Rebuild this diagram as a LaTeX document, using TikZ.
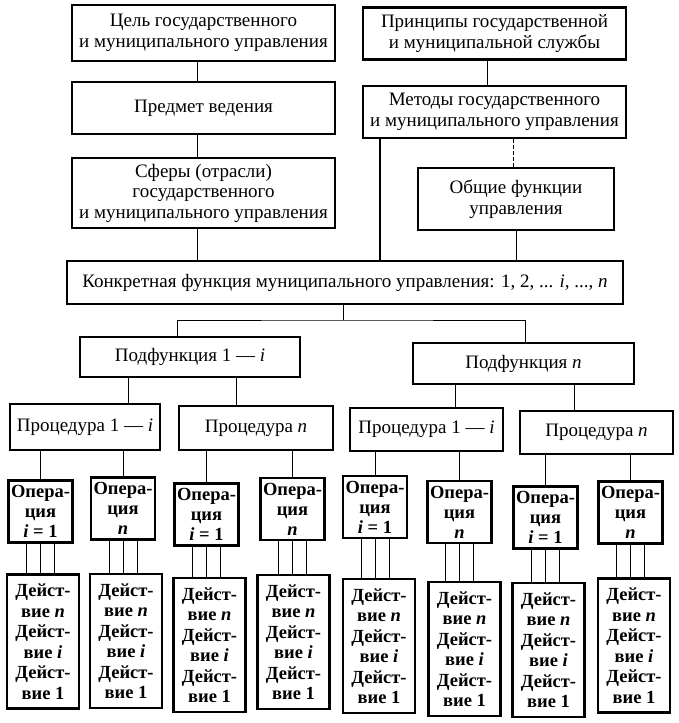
\documentclass[tikz,border=0pt]{standalone}
\usepackage{fontspec}
\setmainfont{Liberation Serif}
\usepackage{tikz}
\usetikzlibrary{positioning,calc}

\begin{document}
\begin{tikzpicture}[
    x=1pt, y=1pt,
    every node/.style={font=\fontsize{19}{20.5}\selectfont},
    block/.style={rectangle, draw=black, line width=2.4pt, align=center, inner sep=1pt},
    opbox/.style={block, font=\fontsize{18.5}{20}\selectfont\bfseries, minimum width=64pt, minimum height=62pt},
    actbox/.style={block, font=\fontsize{18.5}{20.5}\selectfont\bfseries, minimum width=72pt, minimum height=134pt},
    line/.style={line width=0.9pt},
    mainline/.style={line width=2pt},
    dashline/.style={line width=0.9pt, dash pattern=on 4pt off 2pt}
]
    \useasboundingbox (0,0) rectangle (679,-723);

    % Top boxes
    \node[block, minimum width=263pt, minimum height=56pt] (goal) at (203.5,-33) {Цель государственного\\и муниципального управления};
    \node[block, minimum width=263pt, minimum height=52pt] (principles) at (494.5,-33.5) {Принципы государственной\\и муниципальной службы};
    \node[block, minimum width=263pt, minimum height=52pt] (subject) at (203.5,-108) {Предмет ведения};
    \node[block, minimum width=263pt, minimum height=52pt] (methods) at (494.5,-112) {Методы государственного\\и муниципального управления};
    \node[block, minimum width=263pt, minimum height=70pt] (spheres) at (203.5,-193) {Сферы (отрасли)\\государственного\\и муниципального управления};
    \node[block, minimum width=196pt, minimum height=62pt] (general) at (516,-199) {Общие функции\\управления};
    \node[block, minimum width=556pt, minimum height=43pt] (concrete) at (345,-282.5) {Конкретная функция муниципального управления: 1, 2, ... \textit{i}, ..., \textit{n}};

    % Subfunctions and procedures
    \node[block, minimum width=220pt, minimum height=40pt] (subf1) at (190,-357) {Подфункция 1 --- \textit{i}};
    \node[block, minimum width=221pt, minimum height=41pt] (subfn) at (523.5,-363.5) {Подфункция \textit{n}};
    \node[block, minimum width=150pt, minimum height=46pt] (proc1) at (85,-427) {Процедура 1 --- \textit{i}};
    \node[block, minimum width=154pt, minimum height=44pt] (proc2) at (256,-428) {Процедура \textit{n}};
    \node[block, minimum width=153pt, minimum height=43pt] (proc3) at (426.5,-429.5) {Процедура 1 --- \textit{i}};
    \node[block, minimum width=153pt, minimum height=43pt] (proc4) at (596.5,-432.5) {Процедура \textit{n}};

    % Operations
    \node[opbox] (op1) at (40.5,-511.5) {Опера-\\ция\\\textit{i} = 1};
    \node[opbox] (op2) at (123,-508.5) {Опера-\\ция\\\textit{n}};
    \node[opbox] (op3) at (206.5,-514.5) {Опера-\\ция\\\textit{i} = 1};
    \node[opbox] (op4) at (292.5,-509) {Опера-\\ция\\\textit{n}};
    \node[opbox] (op5) at (375,-507) {Опера-\\ция\\\textit{i} = 1};
    \node[opbox] (op6) at (459.5,-512) {Опера-\\ция\\\textit{n}};
    \node[opbox] (op7) at (545.5,-517.5) {Опера-\\ция\\\textit{i} = 1};
    \node[opbox] (op8) at (630.5,-512.5) {Опера-\\ция\\\textit{n}};

    % Actions
    \node[actbox] (act1) at (43,-641.5) {Дейст-\\вие \textit{n}\\Дейст-\\вие \textit{i}\\Дейст-\\вие 1};
    \node[actbox] (act2) at (126,-641) {Дейст-\\вие \textit{n}\\Дейст-\\вие \textit{i}\\Дейст-\\вие 1};
    \node[actbox] (act3) at (209.5,-645) {Дейст-\\вие \textit{n}\\Дейст-\\вие \textit{i}\\Дейст-\\вие 1};
    \node[actbox] (act4) at (293.5,-642) {Дейст-\\вие \textit{n}\\Дейст-\\вие \textit{i}\\Дейст-\\вие 1};
    \node[actbox] (act5) at (379,-646) {Дейст-\\вие \textit{n}\\Дейст-\\вие \textit{i}\\Дейст-\\вие 1};
    \node[actbox] (act6) at (464.5,-649) {Дейст-\\вие \textit{n}\\Дейст-\\вие \textit{i}\\Дейст-\\вие 1};
    \node[actbox] (act7) at (548.5,-650) {Дейст-\\вие \textit{n}\\Дейст-\\вие \textit{i}\\Дейст-\\вие 1};
    \node[actbox] (act8) at (634,-645.5) {Дейст-\\вие \textit{n}\\Дейст-\\вие \textit{i}\\Дейст-\\вие 1};

    % Top connectors
    \draw[line] ([xshift=-6pt]goal.south) -- ([xshift=-6pt]goal.south |- subject.north);
    \draw[line] ([xshift=-6pt]subject.south) -- ([xshift=-6pt]subject.south |- spheres.north);
    \draw[line] ([xshift=-6pt]spheres.south) -- ([xshift=-6pt]spheres.south |- concrete.north);
    \draw[line] ([xshift=-7pt]principles.south) -- ([xshift=-7pt]principles.south |- methods.north);
    \draw[mainline] ([xshift=18pt]methods.south west) -- ([xshift=18pt]methods.south west |- concrete.north);
    \draw[dashline] ([xshift=-3pt]general.north) -- ([xshift=-3pt]general.north |- methods.south);
    \draw[line] (general.south) -- (general.south |- concrete.north);

    % Branch to subfunctions
    \coordinate (bus) at (343,-320);
    \draw[line] (concrete.south -| bus) -- (bus);
    \draw[line] ([xshift=-13pt]subf1.north) |- (bus) -| ([xshift=1.5pt]subfn.north);

    % Subfunctions to procedures
    \draw[line] ([xshift=-62pt]subf1.south) -- ([xshift=-62pt]subf1.south |- proc1.north);
    \draw[line] ([xshift=46pt]subf1.south) -- ([xshift=46pt]subf1.south |- proc2.north);
    \draw[line] ([xshift=-68.5pt]subfn.south) -- ([xshift=-68.5pt]subfn.south |- proc3.north);
    \draw[line] ([xshift=50.5pt]subfn.south) -- ([xshift=50.5pt]subfn.south |- proc4.north);

    % Procedures to operations
    \draw[line] (op1.north) -- (op1.north |- proc1.south);
    \draw[line] (op2.north) -- (op2.north |- proc1.south);
    \draw[line] (op3.north) -- (op3.north |- proc2.south);
    \draw[line] (op4.north) -- (op4.north |- proc2.south);
    \draw[line] (op5.north) -- (op5.north |- proc3.south);
    \draw[line] (op6.north) -- (op6.north |- proc3.south);
    \draw[line] (op7.north) -- (op7.north |- proc4.south);
    \draw[line] (op8.north) -- (op8.north |- proc4.south);

    % Operations to actions
    \foreach \k in {1,...,8}
        \foreach \d in {-14,0,14}
            \draw[line] ([xshift=\d pt]op\k.south) -- ([xshift=\d pt]op\k.south |- act\k.north);

\end{tikzpicture}
\end{document}
